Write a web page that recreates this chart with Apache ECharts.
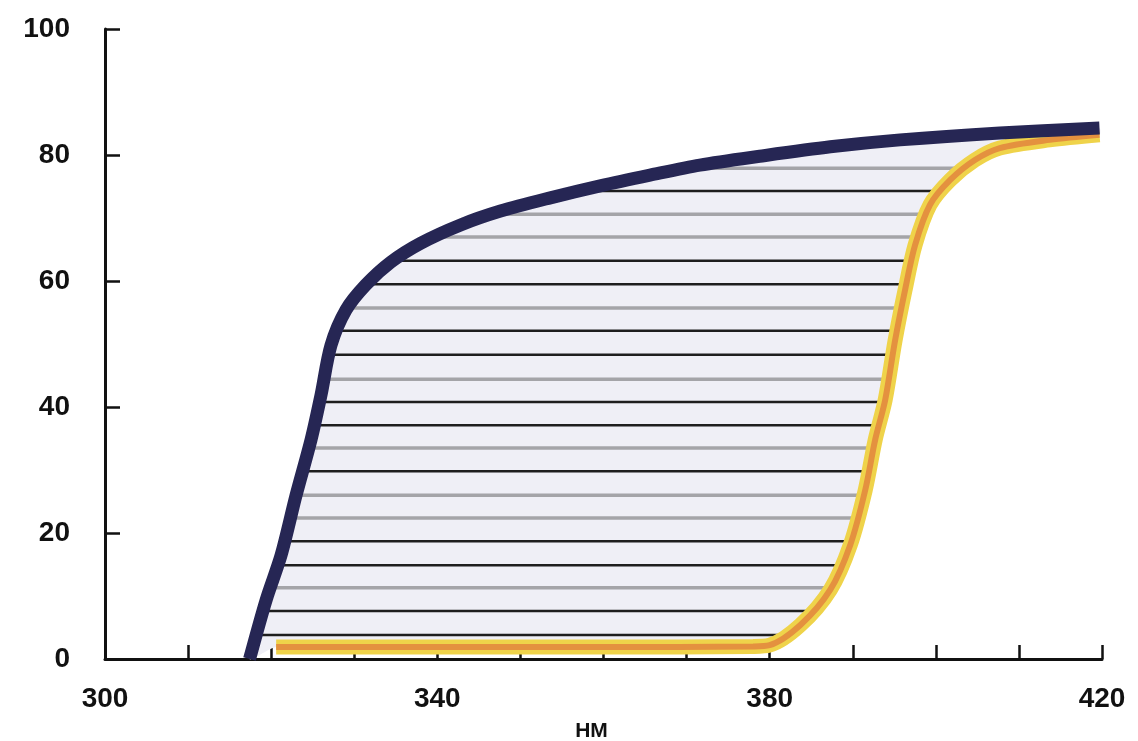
<!DOCTYPE html>
<html>
<head>
<meta charset="utf-8">
<script src="https://cdn.jsdelivr.net/npm/echarts@6/dist/echarts.min.js"></script>
<style>
  html, body { margin: 0; padding: 0; background: #fff; }
  #chart { width: 1138px; height: 741px; }
</style>
</head>
<body>
<div id="chart"></div>
<script>
// wavelength (nm) ticks shown with labels
const xLabels = [300, 340, 380, 420]
const yLabels = [0, 20, 40, 60, 80, 100]

// dark curve: [nm, value]
const darkCurve = [
  [317.4, 0], [319.4, 9.4], [321.2, 16.5], [323.0, 26.0], [324.8, 34.8],
  [326.0, 41.9], [327.2, 49.8], [329.0, 55.4], [331.4, 59.4], [334.4, 63.0],
  [338.0, 66.0], [342.8, 68.9], [347.6, 71.1], [353.6, 73.2], [359.6, 75.1],
  [365.6, 76.8], [371.6, 78.4], [378.8, 79.8], [387.3, 81.3], [395.7, 82.4],
  [407.7, 83.5], [419.7, 84.3]
]

// yellow / orange curve
const orangeCurve = [
  [320.6, 1.9], [340.0, 1.9], [360.0, 1.9], [378.0, 2.0], [380.0, 2.2],
  [383.7, 5.4], [387.3, 11.0], [389.7, 18.1], [391.5, 26.8], [392.7, 34.8],
  [393.9, 41.1], [395.1, 50.6], [396.3, 58.6], [397.5, 65.7], [399.3, 72.1],
  [401.7, 76.0], [404.7, 79.2], [407.7, 81.1], [413.7, 82.4], [419.7, 83.2]
]

// hatch lines between the curves: level, left end, right end
const hatchLevel = [77.9, 74.3, 70.6, 67.0, 63.2, 59.5, 55.7, 52.1, 48.3, 44.4, 40.8,
  37.1, 33.5, 29.8, 26.0, 22.4, 18.7, 14.9, 11.3, 7.6, 3.8]
const hatchLeft = [369.8, 357.0, 346.0, 339.5, 334.6, 331.5, 329.2, 328.0, 327.0, 326.4, 325.8,
  325.2, 324.6, 323.8, 323.0, 322.4, 321.7, 320.8, 319.9, 319.0, 318.1]
const hatchRight = [403.5, 400.5, 398.9, 397.7, 397.1, 396.4, 395.8, 395.3, 394.8, 394.3, 393.9,
  393.2, 392.5, 391.9, 391.4, 390.7, 389.8, 388.6, 387.4, 385.2, 381.5]

// which hatch lines come out dark in the scan
const darkHatch = [1, 4, 5, 7, 8, 10, 11, 13, 16, 17, 19, 20]

const chart = echarts.init(document.getElementById('chart'))

const hatchData = hatchLevel.map((y, i) => [hatchLeft[i], hatchRight[i], y, i])

const labelFont = {
  fontFamily: 'Liberation Sans',
  fontWeight: 'bold',
  fontSize: 28,
  color: '#111'
}

const option = {
  animation: false,
  backgroundColor: '#fff',
  grid: { left: 105, right: 36, top: 29, bottom: 82, containLabel: false, outerBoundsMode: 'none' },
  xAxis: {
    type: 'value',
    min: 300,
    max: 420,
    interval: 10,
    name: 'НМ',
    nameLocation: 'middle',
    nameGap: 62,
    nameTextStyle: { fontFamily: 'Liberation Sans', fontWeight: 'bold', fontSize: 21, color: '#111', padding: [0, 24, 0, 0] },
    axisLine: { lineStyle: { color: '#111', width: 3 } },
    axisTick: { inside: true, length: 14, lineStyle: { color: '#111', width: 2.5 } },
    splitLine: { show: false },
    axisLabel: Object.assign({
      margin: 26,
      formatter: v => xLabels.includes(v) ? String(v) : ''
    }, labelFont)
  },
  yAxis: {
    type: 'value',
    min: 0,
    max: 100,
    interval: 20,
    axisLine: { show: true, lineStyle: { color: '#111', width: 3 } },
    axisTick: { show: true, inside: true, length: 15, lineStyle: { color: '#111', width: 2.5 } },
    splitLine: { show: false },
    axisLabel: Object.assign({
      margin: 35,
      formatter: v => yLabels.includes(v) ? String(v) : ''
    }, labelFont)
  },
  series: [
    {
      // light fill between the curves
      type: 'custom',
      data: [[0]],
      silent: true,
      z: 1,
      renderItem: (params, api) => {
        const pts = darkCurve.map(p => api.coord(p))
          .concat(orangeCurve.slice().reverse().map(p => api.coord(p)))
        return {
          type: 'polygon',
          shape: { points: pts, smooth: 0.2 },
          style: { fill: '#efeff6', stroke: null }
        }
      }
    },
    {
      type: 'custom',
      data: hatchData,
      silent: true,
      z: 2,
      renderItem: (params, api) => {
        const a = api.coord([api.value(0), api.value(2)])
        const b = api.coord([api.value(1), api.value(2)])
        const dark = darkHatch.includes(api.value(3))
        return {
          type: 'line',
          shape: { x1: a[0], y1: a[1], x2: b[0], y2: b[1] },
          style: { stroke: dark ? '#1e1e1e' : '#a4a4a8', lineWidth: dark ? 2.5 : 3.5 }
        }
      }
    },
    {
      type: 'line',
      data: orangeCurve,
      smooth: 0.3,
      showSymbol: false,
      z: 3,
      lineStyle: { color: '#efd34a', width: 15 }
    },
    {
      type: 'line',
      data: orangeCurve,
      smooth: 0.3,
      showSymbol: false,
      z: 4,
      lineStyle: { color: '#e4913f', width: 6 }
    },
    {
      type: 'line',
      data: darkCurve,
      smooth: 0.3,
      showSymbol: false,
      z: 5,
      lineStyle: { color: '#262654', width: 13 }
    }
  ]
}

chart.setOption(option)
</script>
</body>
</html>
